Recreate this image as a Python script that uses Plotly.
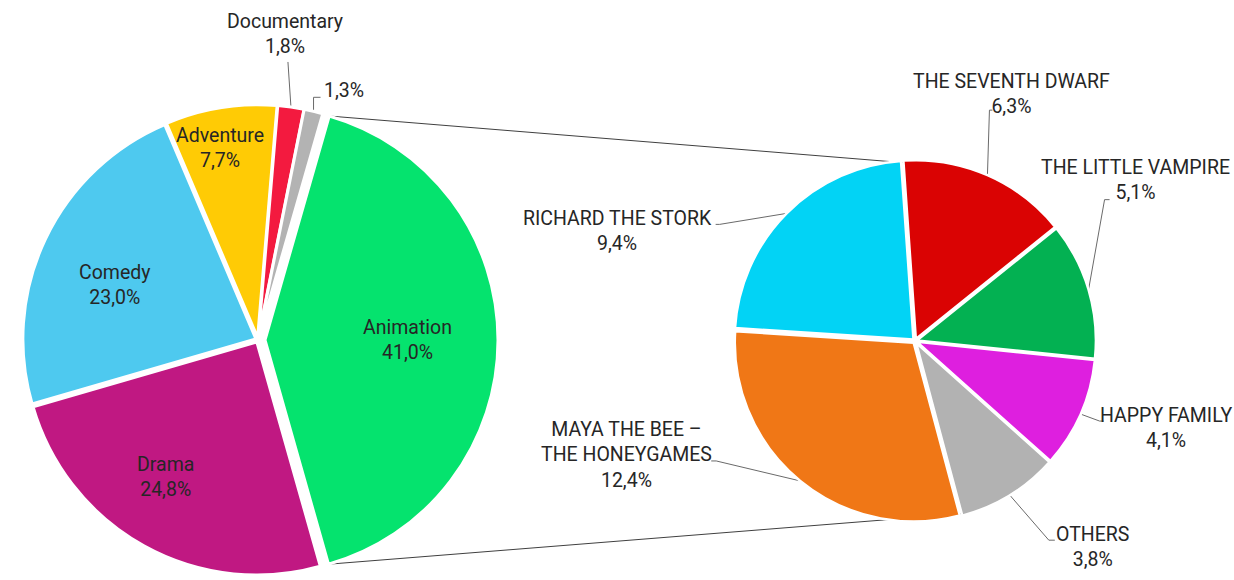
import math
import plotly.graph_objects as go

W, H = 1234, 580

# ---------------- data ----------------
genre_labels = ["Animation", "Drama", "Comedy", "Adventure", "Documentary", "Other"]
genre_values = [41.0, 24.8, 23.0, 7.7, 1.8, 1.3]
genre_colors = ["#05E36E", "#C01882", "#4EC9EF", "#FFCB05", "#F31A3F", "#B3B3B3"]

film_labels = ["THE SEVENTH DWARF", "THE LITTLE VAMPIRE", "HAPPY FAMILY", "OTHERS",
               "MAYA THE BEE –<br>THE HONEYGAMES", "RICHARD THE STORK"]
film_values = [6.3, 5.1, 4.1, 3.8, 12.4, 9.4]
film_colors = ["#DA0303", "#03B152", "#DE1FDF", "#B2B2B2", "#F07716", "#02D3F5"]


def pct(v):
    return f"{v:.1f}".replace(".", ",") + "%"


# ---------------- geometry (style) ----------------
LEFT = dict(cx=258, cy=340, box=480, rotation=16, pull=[0.03, 0.01, 0.01, 0.01, 0.01, 0.01])
RIGHT = dict(cx=915, cy=341, box=362, rotation=-4, pull=[0.012] * 6)


def radius(g):
    return g["box"] / (2 + 2 * max(g["pull"]))


def slice_angles(values, rotation):
    tot = sum(values)
    out, a = [], rotation
    for v in values:
        span = v / tot * 360
        out.append((a, a + span))
        a += span
    return out


def pt(g, ang, rfrac, i=None, mid=None):
    r = radius(g)
    x = g["cx"] + rfrac * r * math.sin(math.radians(ang))
    y = g["cy"] - rfrac * r * math.cos(math.radians(ang))
    if i is not None:
        p = g["pull"][i] * r
        x += p * math.sin(math.radians(mid))
        y -= p * math.cos(math.radians(mid))
    return x, y


def X(x):
    return x / W


def Y(y):
    return 1 - y / H


def domain(g):
    h = g["box"] / 2
    return dict(x=[(g["cx"] - h) / W, (g["cx"] + h) / W],
                y=[max(0, 1 - (g["cy"] + h) / H), min(1, 1 - (g["cy"] - h) / H)])


FONT = "Roboto"
TXT = "#262626"
FS = 19.5

fig = go.Figure()
fig.add_trace(go.Pie(
    labels=genre_labels, values=genre_values, sort=False, direction="clockwise",
    rotation=LEFT["rotation"], pull=LEFT["pull"], domain=domain(LEFT),
    marker=dict(colors=genre_colors, line=dict(color="white", width=3)),
    textinfo="none", hoverinfo="label+percent", showlegend=False))
fig.add_trace(go.Pie(
    labels=[l.replace("<br>", " ") for l in film_labels], values=film_values, sort=False,
    direction="clockwise", rotation=RIGHT["rotation"], pull=RIGHT["pull"], domain=domain(RIGHT),
    marker=dict(colors=film_colors, line=dict(color="white", width=2.5)),
    textinfo="none", hoverinfo="label+value", showlegend=False))

annotations, shapes = [], []

# inside labels on left pie: index -> (radial fraction, angle tweak)
inside = {0: (0.61, 0), 1: (0.70, 5), 2: (0.65, -4.5), 3: (0.83, -2)}
# outside labels: index -> (elbow offset from edge, tail dx, text offset from tail end)
left_out = {4: ((-3, -45), 0, (-3, -28)), 5: ((0, -14), 7, (23, -7))}
right_out = {0: ((2, -65), 3, (19, -16)),
             1: ((16, -90), 5, (26, -20)),
             2: ((19, 7), 4, (62, 7)),
             3: ((39, 45), 6, (38, 7)),
             4: ((-84, -20), -5, (-85, -6)),
             5: ((-67, 11), -4, (-98, 7))}

la = slice_angles(genre_values, LEFT["rotation"])
ra = slice_angles(film_values, RIGHT["rotation"])


def add_label(x, y, text):
    annotations.append(dict(x=X(x), y=Y(y), xref="paper", yref="paper", text=text,
                            showarrow=False, xanchor="center", yanchor="middle",
                            align="center", font=dict(family=FONT, size=FS, color=TXT)))


def add_outside(g, angs, i, spec, label, value):
    a0, a1 = angs[i]
    mid = (a0 + a1) / 2
    ex, ey = pt(g, mid, 1.0, i, mid)
    (odx, ody), tail, (tdx, tdy) = spec
    bx, by = ex + odx, ey + ody
    tx, ty = bx + tail, by
    shapes.append(dict(type="path", xref="paper", yref="paper", layer="below",
                       path=f"M {X(ex)} {Y(ey)} L {X(bx)} {Y(by)} L {X(tx)} {Y(ty)}",
                       line=dict(color="#6A6A6A", width=1)))
    add_label(tx + tdx, ty + tdy, (label + "<br>" if label else "") + pct(value))


for i, (rf, tw) in inside.items():
    a0, a1 = la[i]
    mid = (a0 + a1) / 2
    x, y = pt(LEFT, mid + tw, rf, i, mid)
    add_label(x, y, genre_labels[i] + "<br>" + pct(genre_values[i]))

add_outside(LEFT, la, 4, left_out[4], genre_labels[4], genre_values[4])
add_outside(LEFT, la, 5, left_out[5], "", genre_values[5])
for i, spec in right_out.items():
    add_outside(RIGHT, ra, i, spec, film_labels[i], film_values[i])

# connector lines from the Animation slice to the breakdown pie
a0, a1 = la[0]
amid = (a0 + a1) / 2
p_top = pt(LEFT, a0, 1.0, 0, amid)
p_bot = pt(LEFT, a1, 1.0, 0, amid)
q_top = pt(RIGHT, ra[0][0], 1.0)
q_bot = pt(RIGHT, ra[4][0], 1.0)
for p, q in [(p_top, q_top), (p_bot, q_bot)]:
    shapes.append(dict(type="line", xref="paper", yref="paper", layer="below",
                       x0=X(p[0]), y0=Y(p[1]), x1=X(q[0]), y1=Y(q[1]),
                       line=dict(color="#404040", width=1)))

fig.update_layout(width=W, height=H, margin=dict(l=0, r=0, t=0, b=0),
                  paper_bgcolor="white", plot_bgcolor="white",
                  annotations=annotations, shapes=shapes,
                  font=dict(family=FONT, size=FS, color=TXT))

fig.write_html("out.html")
